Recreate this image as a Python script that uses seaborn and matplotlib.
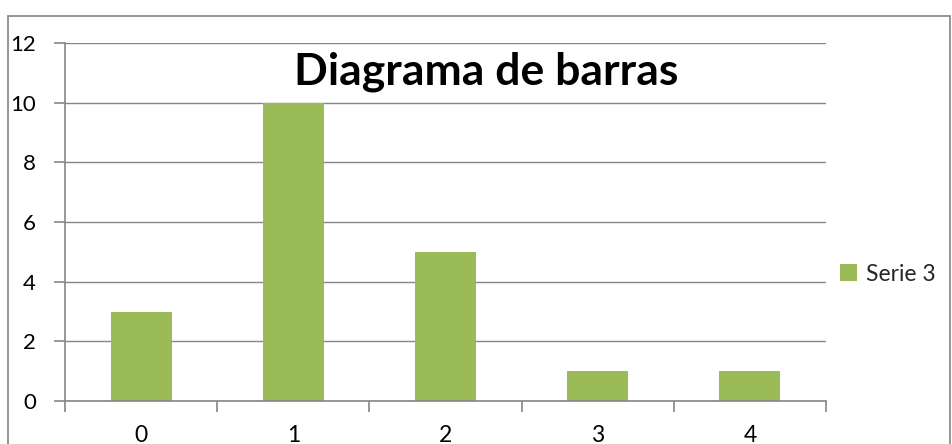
import matplotlib
matplotlib.use("Agg")
import matplotlib.pyplot as plt
import seaborn as sns
import pandas as pd
from matplotlib.patches import Rectangle

categories = ["0", "1", "2", "3", "4"]
values = [3, 10, 5, 1, 1]
series_name = "Serie 3"
title = "Diagrama de barras"
yticks = [0, 2, 4, 6, 8, 10, 12]

sns.set_theme(style="white")
plt.rcParams['font.family'] = ['Lato', 'DejaVu Sans']

df = pd.DataFrame({"cat": categories, "val": values})

fig = plt.figure(figsize=(9.53, 4.44), dpi=100)
ax = fig.add_axes([65/953, 1-401/444, (826-65)/953, (401-43)/444])

sns.barplot(data=df, x="cat", y="val", color="#9BBB59", saturation=1,
            width=0.4, label=series_name, linewidth=0, ax=ax)

grid_c = "#868686"
ax.set_xlim(-0.5, 4.5)
ax.set_ylim(0, 12)
ax.set_yticks(yticks)
ax.set_yticklabels([str(t) for t in yticks])
ax.yaxis.grid(True, color=grid_c, linewidth=1.0)
ax.set_axisbelow(True)
ax.set_xlabel("")
ax.set_ylabel("")
for s in ["top", "right"]:
    ax.spines[s].set_visible(False)
for s in ["left", "bottom"]:
    ax.spines[s].set_color(grid_c)
    ax.spines[s].set_linewidth(1.2)

ax.set_xticks([i - 0.5 for i in range(6)], minor=True)
ax.tick_params(axis="x", which="minor", length=8, color=grid_c, width=1.2, bottom=True)
ax.tick_params(axis="x", which="major", length=0, pad=17, labelsize=16.5, labelcolor="black")
ax.tick_params(axis="y", which="major", length=8, color=grid_c, width=1.2, left=True,
               pad=13, labelsize=16, labelcolor="black")

fig.text(486/953, 1-72/444, title, ha="center", va="center",
         fontsize=32, fontweight="bold", color="black")

leg = ax.legend(loc="center left", bbox_to_anchor=(840/953, 1-274/444),
                bbox_transform=fig.transFigure, frameon=False, fontsize=16.5,
                handlelength=0.75, handleheight=0.75, handletextpad=0.4,
                borderpad=0, borderaxespad=0)

fig.patches.append(Rectangle((8/953, -0.05), (950-8)/953, 1.05-16/444,
                             transform=fig.transFigure, fill=False,
                             edgecolor="#8c8c8c", linewidth=1.3))

fig.savefig("out.png", dpi=100)
